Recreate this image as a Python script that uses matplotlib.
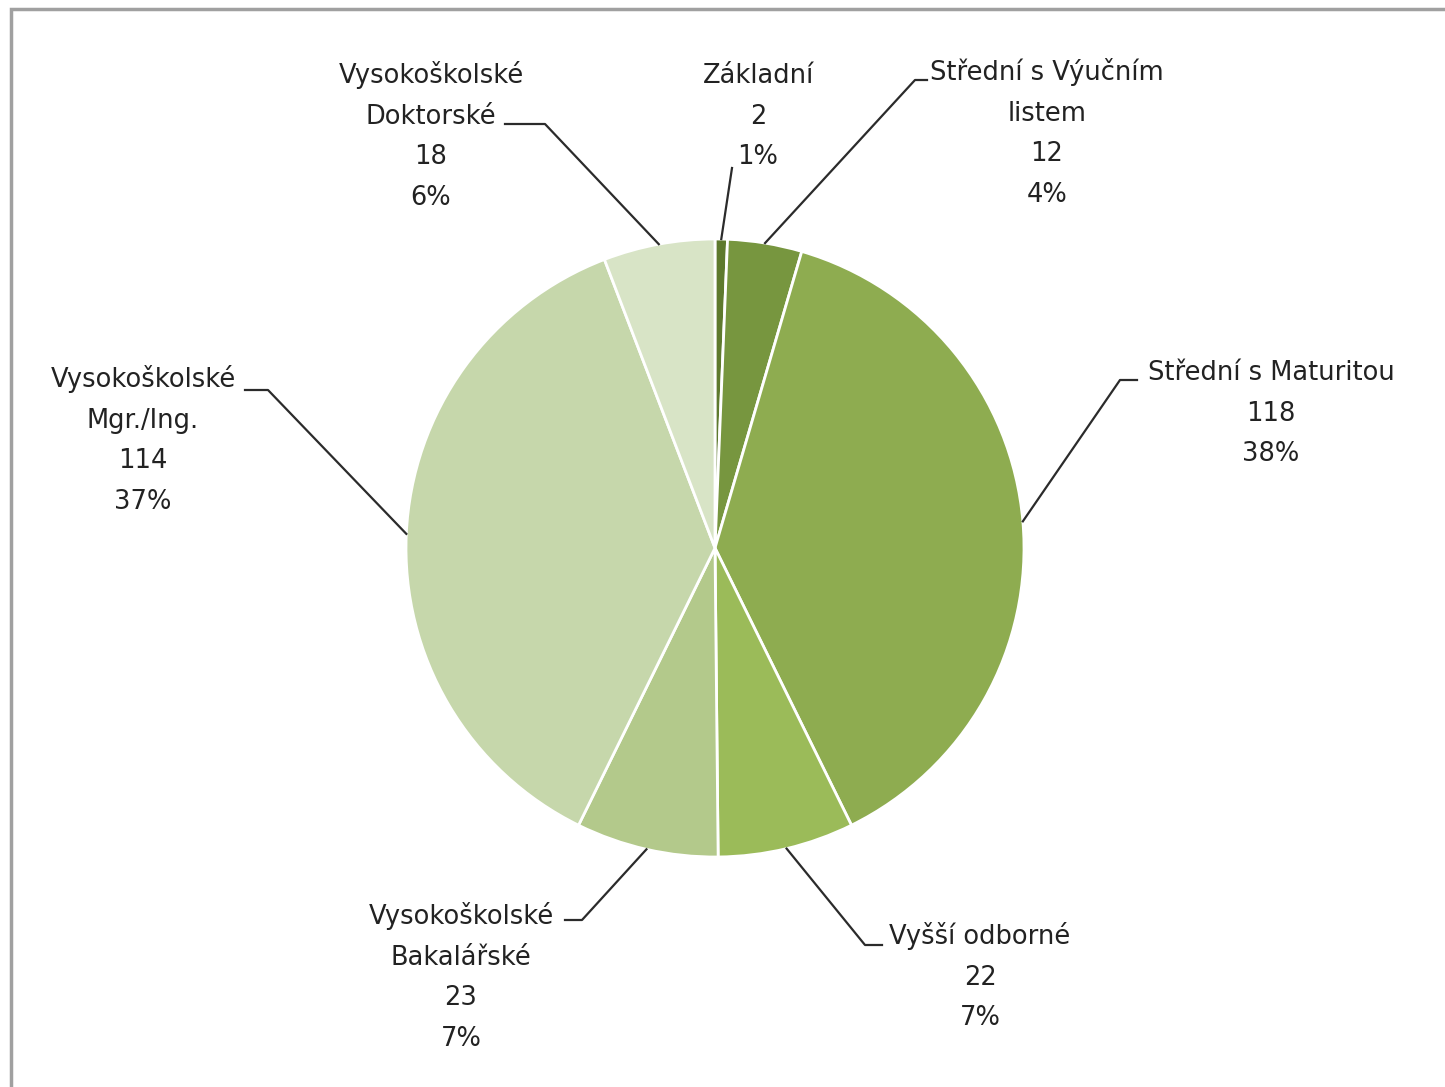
import numpy as np
import matplotlib
matplotlib.use("Agg")
import matplotlib.pyplot as plt
from matplotlib.patches import Rectangle

# data
categories = ["Základní", "Střední s Výučním\nlistem", "Střední s Maturitou",
              "Vyšší odborné", "Vysokoškolské\nBakalářské",
              "Vysokoškolské\nMgr./Ing.", "Vysokoškolské\nDoktorské"]
values = [2, 12, 118, 22, 23, 114, 18]
colors = ["#5E7A2E", "#77963F", "#8EAC50", "#9BBB59", "#B3C98B", "#C6D7AB", "#D8E4C6"]

W, H = 1445, 1087
CX, CY, R = 715, 548, 309

# label layout in pixel coords: text anchor (x, y top), leader elbow, leader end
layout = [
    dict(tx=758, ty=63, elbow=None, end=(732, 168)),
    dict(tx=1047, ty=58, elbow=(915, 80), end=(927, 80)),
    dict(tx=1271, ty=360, elbow=(1120, 380), end=(1137, 380)),
    dict(tx=980, ty=922, elbow=(865, 945), end=(882, 945)),
    dict(tx=461, ty=902, elbow=(582, 920), end=(565, 920)),
    dict(tx=143, ty=365, elbow=(268, 390), end=(245, 390)),
    dict(tx=431, ty=61, elbow=(545, 124), end=(505, 124)),
]

plt.rcParams['font.family'] = ['DejaVu Sans']

fig = plt.figure(figsize=(W / 100, H / 100), dpi=100)
ax = fig.add_axes([0, 0, 1, 1])

# chart frame (right and bottom edges fall outside the picture)
ax.add_patch(Rectangle((11, -20), W + 20, H - 9 + 20, fill=False,
                       edgecolor="#a0a0a0", linewidth=2.5))

wedges, _ = ax.pie(values, colors=colors, startangle=90, counterclock=False,
                   center=(CX, H - CY), radius=R, frame=True,
                   wedgeprops=dict(edgecolor="white", linewidth=2))
ax.set_xlim(0, W)
ax.set_ylim(0, H)
ax.set_aspect("equal")
ax.axis("off")

total = sum(values)
for w, cat, v, lay in zip(wedges, categories, values, layout):
    mid = np.deg2rad((w.theta1 + w.theta2) / 2)
    ex = CX + R * np.cos(mid)
    ey = (H - CY) + R * np.sin(mid)
    xs, ys = [ex], [ey]
    if lay["elbow"] is not None:
        xs.append(lay["elbow"][0]); ys.append(H - lay["elbow"][1])
    xs.append(lay["end"][0]); ys.append(H - lay["end"][1])
    ax.plot(xs, ys, color="#2b2b2b", linewidth=1.6)
    pct = f"{v / total * 100:.0f}%"
    ax.text(lay["tx"], H - lay["ty"], f"{cat}\n{v}\n{pct}", ha="center", va="top",
            fontsize=18.5, color="#222222", linespacing=1.73)

fig.savefig("out.png", dpi=100)
